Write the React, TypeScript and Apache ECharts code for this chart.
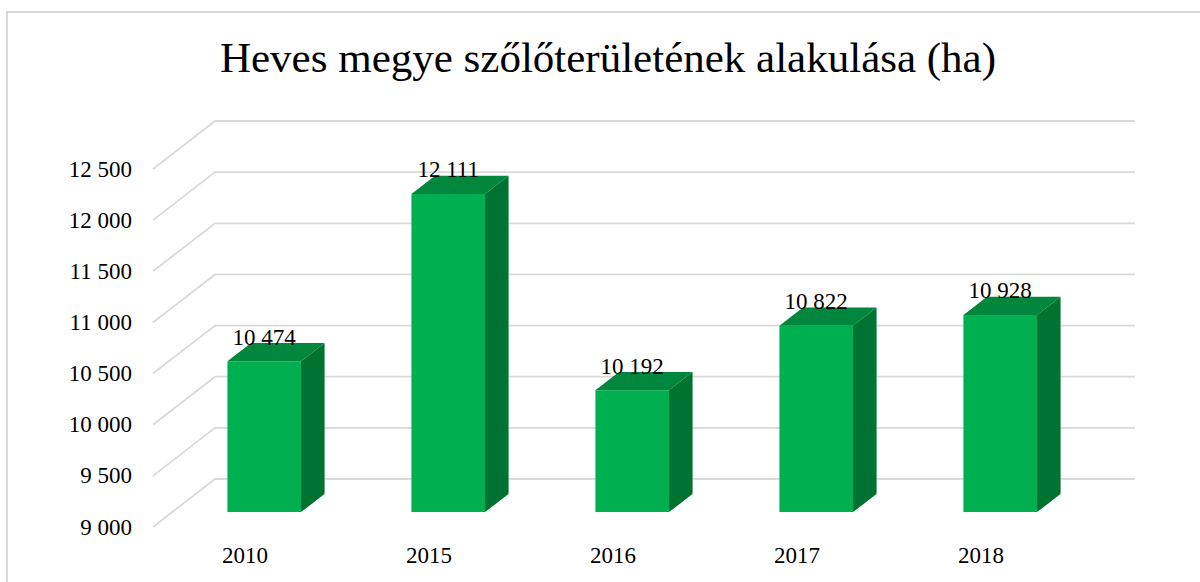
import React, { useEffect, useRef } from "react";
import * as echarts from "echarts";

const categories = ["2010", "2015", "2016", "2017", "2018"];
const values = [10474, 12111, 10192, 10822, 10928];
const yTicks = [9000, 9500, 10000, 10500, 11000, 11500, 12000, 12500];
const titleText = "Heves megye szőlőterületének alakulása (ha)";

const FONT = "Liberation Serif";
const DX = 62; // perspective depth offset (x)
const DY = 48; // perspective depth offset (y)
const F0 = 0.31; // bar front depth fraction
const F1 = 0.69; // bar back depth fraction

const fmt = (v: number) => String(v).replace(/\B(?=(\d{3})+(?!\d))/g, " ");

export default function App() {
  const ref = useRef<HTMLDivElement>(null);
  useEffect(() => {
    if (!ref.current) return;
    const chart = echarts.init(ref.current, null, { renderer: "svg" });
    const option: any = {
      animation: false,
      backgroundColor: "#ffffff",
      textStyle: { fontFamily: FONT },
      grid: { left: 153, right: 127, top: 169, bottom: 55, containLabel: false },
      xAxis: {
        type: "category",
        data: categories,
        boundaryGap: true,
        axisLine: { show: false },
        axisTick: { show: false },
        splitLine: { show: false },
        axisLabel: { fontFamily: FONT, fontSize: 23, color: "#000", margin: 17 },
      },
      yAxis: {
        type: "value",
        min: 9000,
        max: 12500,
        interval: 500,
        axisLine: { show: false },
        axisTick: { show: false },
        splitLine: { show: false },
        axisLabel: {
          fontFamily: FONT,
          fontSize: 23,
          color: "#000",
          margin: 21,
          formatter: (v: number) => fmt(v),
        },
      },
      graphic: [
        {
          type: "rect",
          shape: { x: 7, y: 12, width: 1250, height: 650 },
          style: { fill: "none", stroke: "#d9d9d9", lineWidth: 2 },
          silent: true,
          z: 0,
        },
        {
          type: "text",
          x: 608,
          y: 57,
          style: {
            text: titleText,
            fontFamily: FONT,
            fontSize: 43,
            fill: "#000",
            textAlign: "center",
            textVerticalAlign: "middle",
          },
        },
      ],
      series: [
        {
          type: "custom",
          z: 1,
          silent: true,
          data: yTicks.map((v) => [0, v]),
          renderItem: (params: any, api: any) => {
            const cs = params.coordSys;
            const y = api.coord([0, api.value(1)])[1];
            return {
              type: "polyline",
              shape: {
                points: [
                  [cs.x, y],
                  [cs.x + DX, y - DY],
                  [cs.x + cs.width + DX, y - DY],
                ],
              },
              style: { stroke: "#d9d9d9", lineWidth: 1.8, fill: "none" },
            };
          },
        },
        {
          type: "custom",
          z: 2,
          data: values.map((v, i) => [i, v]),
          renderItem: (params: any, api: any) => {
            const idx = api.value(0);
            const val = api.value(1);
            const base = api.coord([idx, 9000]);
            const top = api.coord([idx, val]);
            const bw = api.size([1, 0])[0] * 0.4;
            const ox = DX * F0;
            const oy = DY * F0;
            const ddx = DX * (F1 - F0);
            const ddy = DY * (F1 - F0);
            const xl = base[0] - bw / 2 + ox;
            const xr = xl + bw;
            const yt = top[1] - oy;
            const yb = base[1] - oy;
            return {
              type: "group",
              children: [
                {
                  type: "rect",
                  shape: { x: xl, y: yt, width: bw, height: yb - yt },
                  style: { fill: "#00B050" },
                },
                {
                  type: "polygon",
                  shape: {
                    points: [
                      [xl, yt],
                      [xr, yt],
                      [xr + ddx, yt - ddy],
                      [xl + ddx, yt - ddy],
                    ],
                  },
                  style: { fill: "#00873D" },
                },
                {
                  type: "polygon",
                  shape: {
                    points: [
                      [xr, yt],
                      [xr + ddx, yt - ddy],
                      [xr + ddx, yb - ddy],
                      [xr, yb],
                    ],
                  },
                  style: { fill: "#007232" },
                },
                {
                  type: "text",
                  x: xl + bw / 2,
                  y: top[1] - 39,
                  z2: 10,
                  style: {
                    text: fmt(val),
                    fontFamily: FONT,
                    fontSize: 23,
                    fill: "#000",
                    textAlign: "center",
                    textVerticalAlign: "middle",
                  },
                },
              ],
            };
          },
        },
      ],
    };
    chart.setOption(option);
    return () => chart.dispose();
  }, []);
  return (
    <div
      ref={ref}
      style={{ position: "fixed", left: 0, top: 0, width: 1200, height: 582 }}
    />
  );
}
